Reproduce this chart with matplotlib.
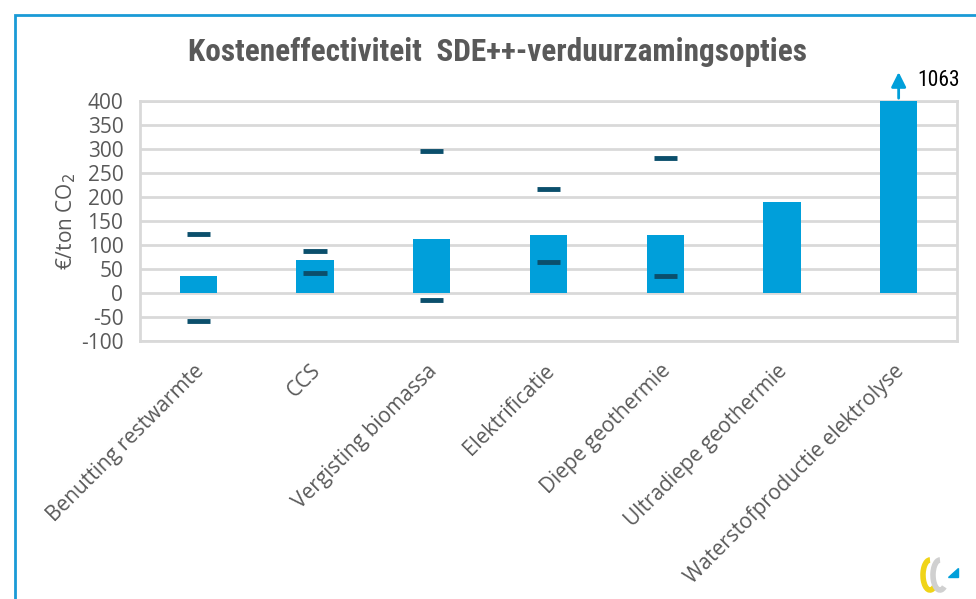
import matplotlib.pyplot as plt
import matplotlib.transforms as mtransforms
from matplotlib.patches import Rectangle, Arc, Polygon

categories = ["Benutting restwarmte", "CCS", "Vergisting biomassa", "Elektrificatie",
              "Diepe geothermie", "Ultradiepe geothermie", "Waterstofproductie elektrolyse"]
bar_values = [35, 69, 112, 121, 121, 190, 1063]
high_marks = [122, 87, 295, 217, 282, None, None]
low_marks = [-58, 41, -15, 65, 35, None, None]
yticks = list(range(-100, 401, 50))

BAR = "#009fda"
MARK = "#0b4f6c"
GREY = "#595959"

plt.rcParams['font.family'] = ['Open Sans', 'DejaVu Sans']

fig = plt.figure(figsize=(9.76, 5.99), dpi=100)
ax = fig.add_axes([140 / 976, 1 - 341 / 599, 817 / 976, 240 / 599])

x = list(range(len(categories)))
ax.bar(x, [min(v, 400) for v in bar_values], width=0.32, color=BAR, zorder=3)
for i in x:
    for m in (high_marks[i], low_marks[i]):
        if m is not None:
            ax.plot([i - 0.1, i + 0.1], [m, m], color=MARK, lw=3.5,
                    solid_capstyle='butt', zorder=4)

# arrow for the clipped bar
last = len(categories) - 1
ax.annotate("", xy=(last, 466), xytext=(last, 400),
            arrowprops=dict(arrowstyle="-|>", color=BAR, lw=2, mutation_scale=22),
            annotation_clip=False, zorder=5)
ax.text(last + 0.16, 443, f"{bar_values[last]}", fontsize=15.5, color="black",
        va="center", ha="left", clip_on=False, family=['Roboto Condensed', 'Open Sans'])

ax.set_xlim(-0.5, len(categories) - 0.5)
ax.set_ylim(-100, 400)
ax.set_yticks(yticks)
ax.set_yticklabels([str(t) for t in yticks], fontsize=15, color=GREY)
ax.grid(axis='y', color="#d9d9d9", lw=2, zorder=0)
for s in ax.spines.values():
    s.set_color("#d9d9d9")
    s.set_linewidth(2)
ax.tick_params(axis='both', length=0)
ax.tick_params(axis='y', pad=12)
ax.set_xticks(x)
ax.set_xticklabels(categories, rotation=45, ha='right', va='top', rotation_mode='anchor',
                   fontsize=15, color=GREY)
ax.tick_params(axis='x', pad=14)
shift = mtransforms.ScaledTranslation(-5 / 100, 0, fig.dpi_scale_trans)
for lab in ax.get_xticklabels():
    lab.set_transform(lab.get_transform() + shift)
ax.set_ylabel("€/ton CO$_2$", fontsize=15, color=GREY, labelpad=2)

fig.text(498 / 976, 1 - 52 / 599, "Kosteneffectiviteit  SDE++-verduurzamingsopties",
         ha="center", va="center", fontsize=22.5, fontweight="bold", color=GREY,
         family=['Roboto Condensed', 'Open Sans'])

# outer frame
fig.patches.append(Rectangle((15 / 976, -0.1), 1.1, 1 - 15 / 599 + 0.1,
                             transform=fig.transFigure, fill=False,
                             edgecolor="#1a9ad6", lw=2))

# small logo, bottom right
lax = fig.add_axes([912 / 976, 4 / 599, 58 / 976, 40 / 599])
lax.set_xlim(0, 58)
lax.set_ylim(0, 40)
lax.axis('off')
lax.add_patch(Arc((18, 20), 14, 30, theta1=90, theta2=290, color="#f0d418", lw=4))
lax.add_patch(Arc((28, 20), 14, 30, theta1=90, theta2=290, color="#d0d0d0", lw=4))
lax.add_patch(Polygon([[36, 18], [46, 18], [46, 27]], color=BAR))

fig.savefig("out.png", dpi=100)
